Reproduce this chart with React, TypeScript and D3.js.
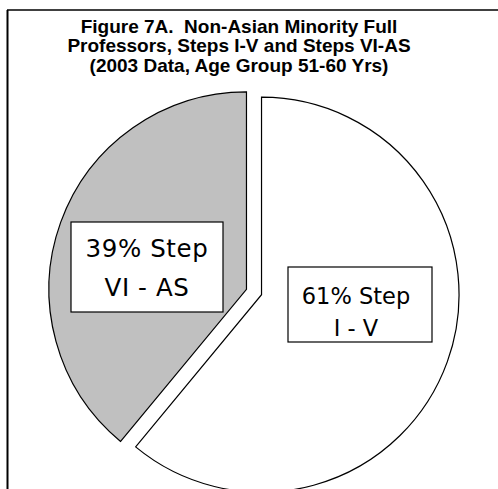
import React from "react";
import * as d3 from "d3";

const categories = ["Step I - V", "Step VI - AS"];
const values = [61, 39];
const labelLines = [
  ["61% Step", "I - V"],
  ["39% Step", "VI - AS"],
];
const titleLines = [
  "Figure 7A.  Non-Asian Minority Full",
  "Professors, Steps I-V and Steps VI-AS",
  "(2003 Data, Age Group 51-60 Yrs)",
];
const fills = ["#FFFFFF", "#C0C0C0"];

export default function App() {
  const W = 498;
  const H = 489;
  const cx = 254;
  const cy = 292;
  const r = 197.5;
  const explode = 8;
  const pie = d3.pie<number>().sort(null).value((d) => d).startAngle(0).endAngle(2 * Math.PI);
  const arcs = pie(values);
  const arcGen = d3.arc<d3.PieArcDatum<number>>().innerRadius(0).outerRadius(r);

  const boxes = [
    { x: 288, y: 267, w: 144, h: 75, tx: 356, base: [303.5, 335.5], fs: 22.5, ls: 0 },
    { x: 71, y: 222, w: 152, h: 90, tx: 147, base: [257, 296], fs: 24.5, ls: 0.6 },
  ];

  return (
    <svg width={W} height={H} style={{ position: "absolute", left: 0, top: 0, background: "#fff" }}>
      <line x1={7} y1={10} x2={W} y2={10} stroke="#000" strokeWidth={1.5} />
      <line x1={7.5} y1={10} x2={7.5} y2={H} stroke="#000" strokeWidth={2} />
      {titleLines.map((t, i) => (
        <text
          key={i}
          x={239}
          y={33 + i * 19.3}
          textAnchor="middle"
          fontFamily="'Liberation Sans', Arial, sans-serif"
          fontWeight="bold"
          fontSize={19}
          style={{ whiteSpace: "pre" }}
          fill="#000"
        >
          {t}
        </text>
      ))}
      {arcs.map((a, i) => {
        const mid = (a.startAngle + a.endAngle) / 2;
        const dx = Math.sin(mid) * explode;
        const dy = -Math.cos(mid) * explode;
        return (
          <path
            key={categories[i]}
            d={arcGen(a) || ""}
            transform={`translate(${cx + dx},${cy + dy})`}
            fill={fills[i]}
            stroke="#000"
            strokeWidth={1.2}
            strokeLinejoin="miter"
          />
        );
      })}
      {boxes.map((b, i) => (
        <g key={i}>
          <rect x={b.x} y={b.y} width={b.w} height={b.h} fill="#fff" stroke="#000" strokeWidth={1.2} />
          {labelLines[i].map((l, j) => (
            <text
              key={j}
              x={b.tx}
              y={b.base[j]}
              textAnchor="middle"
              fontFamily="'DejaVu Sans', Verdana, sans-serif"
              fontSize={b.fs}
              letterSpacing={b.ls}
              fill="#000"
            >
              {l}
            </text>
          ))}
        </g>
      ))}
    </svg>
  );
}
